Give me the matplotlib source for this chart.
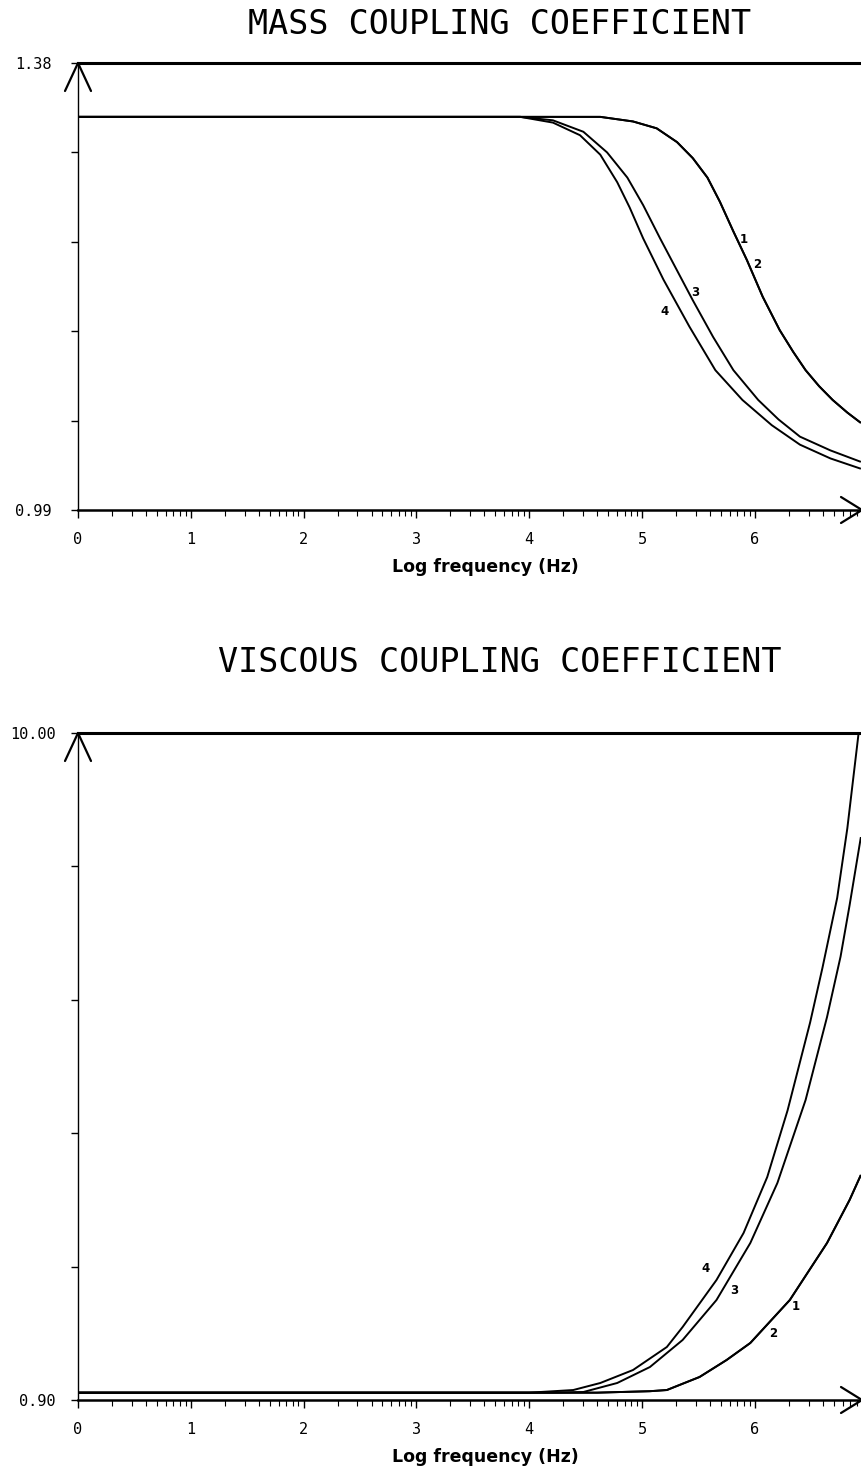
import numpy as np
import matplotlib.pyplot as plt

# log10 frequency (Hz) vs coefficient, curves 1 and 2 coincide
mass_x_1 = [0.0, 4.63, 4.92, 5.13, 5.31, 5.45, 5.58, 5.69, 5.81, 5.93, 6.07, 6.22, 6.34, 6.45,
            6.57, 6.69, 6.82, 6.94]
mass_y_1 = [1.333, 1.333, 1.329, 1.323, 1.311, 1.297, 1.280, 1.259, 1.233, 1.208, 1.176, 1.147,
            1.128, 1.112, 1.098, 1.086, 1.075, 1.066]
mass_x_2 = mass_x_1
mass_y_2 = mass_y_1
mass_x_3 = [0.0, 3.92, 4.21, 4.48, 4.69, 4.87, 5.01, 5.16, 5.45, 5.63, 5.81, 6.03, 6.21, 6.40,
            6.67, 6.94]
mass_y_3 = [1.333, 1.333, 1.330, 1.320, 1.302, 1.280, 1.256, 1.227, 1.173, 1.141, 1.112, 1.086,
            1.069, 1.054, 1.042, 1.032]
mass_x_4 = [0.0, 3.92, 4.21, 4.45, 4.63, 4.78, 4.89, 5.01, 5.19, 5.42, 5.65, 5.89, 6.15, 6.40,
            6.67, 6.94]
mass_y_4 = [1.333, 1.333, 1.328, 1.317, 1.300, 1.276, 1.254, 1.227, 1.191, 1.150, 1.112, 1.086,
            1.064, 1.047, 1.035, 1.026]

visc_x_1 = [0.0, 4.6, 5.07, 5.22, 5.51, 5.75, 5.96, 6.31, 6.64, 6.84, 6.94]
visc_y_1 = [1.0, 1.0, 1.02, 1.036, 1.214, 1.446, 1.678, 2.264, 3.042, 3.629, 3.97]
visc_x_2 = visc_x_1
visc_y_2 = visc_y_1
visc_x_3 = [0.0, 4.2, 4.48, 4.78, 5.07, 5.36, 5.66, 5.96, 6.20, 6.45, 6.64, 6.76, 6.84, 6.94]
visc_y_3 = [1.0, 1.0, 1.009, 1.132, 1.350, 1.719, 2.264, 3.042, 3.861, 4.993, 6.125, 6.95, 7.65, 8.58]
visc_x_4 = [0.0, 4.0, 4.39, 4.63, 4.92, 5.22, 5.36, 5.66, 5.90, 6.11, 6.29, 6.49, 6.60, 6.73, 6.82, 6.92]
visc_y_4 = [1.0, 1.0, 1.036, 1.132, 1.309, 1.623, 1.896, 2.537, 3.178, 3.942, 4.85, 6.05, 6.80, 7.75, 8.70, 10.0]

# curve number labels: (text, x, y)
mass_labels = [('1', 5.90, 1.226), ('2', 6.02, 1.204), ('3', 5.47, 1.180), ('4', 5.20, 1.163)]
visc_labels = [('4', 5.56, 2.70), ('3', 5.82, 2.40), ('1', 6.36, 2.17), ('2', 6.16, 1.81)]

x_ticks = [0, 1, 2, 3, 4, 5, 6]
mass_range = (0.99, 1.38)
visc_range = (0.90, 10.00)
mass_ylabels = ['0.99', '1.38']
visc_ylabels = ['0.90', '10.00']

X_MAX = 6.95
MONO = 'DejaVu Sans Mono'


def arrowhead(ax, xy, ends):
    for dx, dy in ends:
        ax.annotate('', xy=xy, xycoords='axes fraction', xytext=(dx, dy),
                    textcoords='offset pixels',
                    arrowprops=dict(arrowstyle='-', lw=1.6, color='k',
                                    shrinkA=0, shrinkB=0),
                    annotation_clip=False)


def panel(ax, curves, labels, yr, ylabels, ypad):
    for x, y in curves:
        ax.plot(x, y, color='k', lw=1.4, solid_capstyle='butt')
    for t, lx, ly in labels:
        ax.text(lx, ly, t, fontsize=8.5, fontweight='bold', ha='center', va='center')

    ax.set_xlim(0, X_MAX)
    ax.set_ylim(*yr)
    ax.spines['right'].set_visible(False)
    ax.spines['top'].set_linewidth(2.2)
    ax.spines['bottom'].set_linewidth(1.8)
    ax.spines['left'].set_linewidth(1.0)

    minor = [d + np.log10(m) for d in range(7) for m in range(2, 10) if d + np.log10(m) < X_MAX]
    ax.set_xticks(x_ticks)
    ax.set_xticks(minor, minor=True)
    ax.set_xticklabels([str(v) for v in x_ticks], fontfamily=MONO, fontsize=11)
    ax.tick_params(axis='x', which='major', direction='out', length=6, width=1.0, pad=10)
    ax.tick_params(axis='x', which='minor', direction='out', length=4, width=0.8)

    ax.set_yticks(np.linspace(yr[0], yr[1], 6))
    ax.set_yticklabels([ylabels[0], '', '', '', '', ylabels[1]], fontfamily=MONO, fontsize=11)
    ax.tick_params(axis='y', direction='out', length=5, width=1.0, pad=ypad)

    ax.set_xlabel('Log frequency (Hz)', fontsize=12.5, fontweight='bold')
    ax.xaxis.set_label_coords(0.52, -48 / ax.bbox.height)

    arrowhead(ax, (0, 1), [(-13, -28), (13, -28)])
    arrowhead(ax, (1, 0), [(-21, 13), (-21, -13)])


fig = plt.figure(figsize=(8.61, 14.72), dpi=100)

ax1 = fig.add_axes([78 / 861, 1 - 510 / 1472, 784 / 861, 447 / 1472])
panel(ax1,
      [(mass_x_1, mass_y_1), (mass_x_2, mass_y_2), (mass_x_3, mass_y_3), (mass_x_4, mass_y_4)],
      mass_labels, mass_range, mass_ylabels, 14)

ax2 = fig.add_axes([78 / 861, 1 - 1400 / 1472, 784 / 861, 667 / 1472])
panel(ax2,
      [(visc_x_1, visc_y_1), (visc_x_2, visc_y_2), (visc_x_3, visc_y_3), (visc_x_4, visc_y_4)],
      visc_labels, visc_range, visc_ylabels, 11)

fig.text(500 / 861, 1 - 24 / 1472, 'MASS COUPLING COEFFICIENT', fontsize=24,
         fontfamily=MONO, ha='center', va='center')
fig.text(500 / 861, 1 - 663 / 1472, 'VISCOUS COUPLING COEFFICIENT', fontsize=24,
         fontfamily=MONO, ha='center', va='center')

fig.savefig('out.png', dpi=100, facecolor='white')
